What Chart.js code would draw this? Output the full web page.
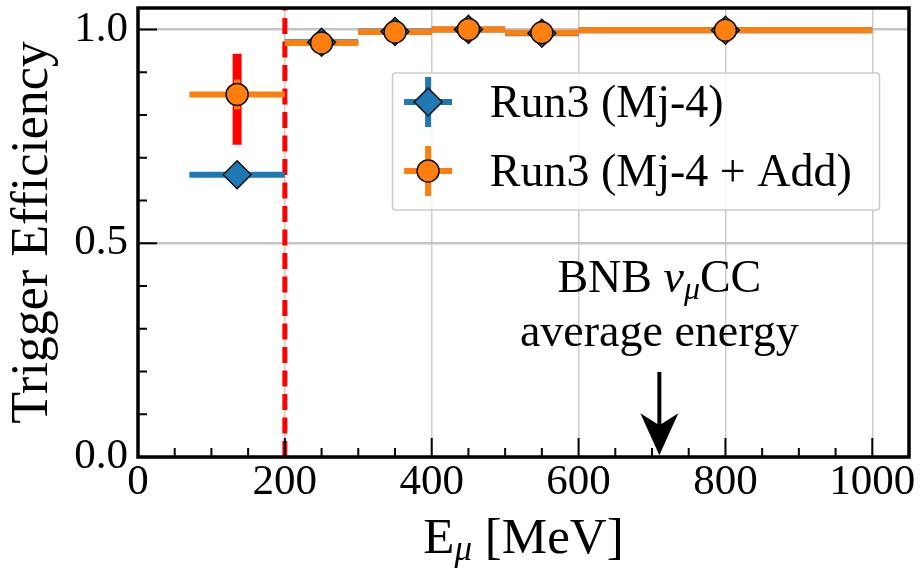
<!DOCTYPE html>
<html>
<head>
<meta charset="utf-8">
<script src="https://cdn.jsdelivr.net/npm/chart.js@4.4.1/dist/chart.umd.min.js"></script>
<style>
  html, body { margin: 0; padding: 0; background: #fff; }
  #wrap { width: 922px; height: 569px; }
</style>
</head>
<body>
<div id="wrap"><canvas id="myChart"></canvas></div>
<script>
// energy bins, E_mu [MeV]
const binLow = [70, 200, 300, 400, 500, 600];
const binHigh = [200, 300, 400, 500, 600, 1000];
const binCenter = [135, 250, 350, 450, 550, 800];

// trigger efficiency per bin
const effMj4 = [0.660, 0.970, 0.995, 1.000, 0.991, 0.998];
const errMj4 = [0.020, 0.006, 0.003, 0.002, 0.004, 0.002];
const effMj4Add = [0.848, 0.968, 0.994, 1.000, 0.992, 0.998];
const errMj4Add = [0.035, 0.006, 0.003, 0.002, 0.004, 0.002];

// red band on the lowest bin
const bandX = [135];
const bandLow = [0.730];
const bandHigh = [0.943];

const xTicks = [0, 200, 400, 600, 800, 1000];
const yTicks = [0.0, 0.5, 1.0];

const thresholdE = 200;   // red dashed line
const avgE = 710;         // BNB numu CC average energy arrow

const serif = '"Liberation Serif", "Times New Roman", serif';
const BLUE = '#1f77b4';
const ORANGE = '#ff7f0e';

function drawRuns(ctx, runs, cx, baseline) {
    let total = 0;
    runs.forEach(r => { ctx.font = r.font; r.w = ctx.measureText(r.text).width; total += r.w; });
    let x = cx - total / 2;
    ctx.textAlign = 'left';
    ctx.textBaseline = 'alphabetic';
    runs.forEach(r => {
        ctx.font = r.font;
        ctx.fillText(r.text, x, baseline + (r.dy || 0));
        x += r.w;
    });
}

function drawErrorBars(ctx, sx, sy, xs, ys, xlo, xhi, yerr, color, lw) {
    ctx.strokeStyle = color;
    ctx.lineWidth = lw;
    ctx.lineCap = 'butt';
    for (let i = 0; i < xs.length; i++) {
        const py = sy.getPixelForValue(ys[i]);
        const px = sx.getPixelForValue(xs[i]);
        ctx.beginPath();
        ctx.moveTo(sx.getPixelForValue(xlo[i]), py);
        ctx.lineTo(sx.getPixelForValue(xhi[i]), py);
        ctx.moveTo(px, sy.getPixelForValue(ys[i] - yerr[i]));
        ctx.lineTo(px, sy.getPixelForValue(ys[i] + yerr[i]));
        ctx.stroke();
    }
}

const decorations = {
    id: 'decorations',
    beforeDatasetsDraw(chart) {
        const ctx = chart.ctx;
        const ca = chart.chartArea;
        const sx = chart.scales.x, sy = chart.scales.y;
        ctx.save();

        // threshold line
        const tx = sx.getPixelForValue(thresholdE);
        ctx.strokeStyle = '#ff0000';
        ctx.lineWidth = 5;
        ctx.setLineDash([16, 7.5]);
        ctx.beginPath();
        ctx.moveTo(tx, ca.bottom);
        ctx.lineTo(tx, ca.top);
        ctx.stroke();
        ctx.setLineDash([]);

        // red band
        ctx.lineWidth = 9;
        for (let i = 0; i < bandX.length; i++) {
            const px = sx.getPixelForValue(bandX[i]);
            ctx.beginPath();
            ctx.moveTo(px, sy.getPixelForValue(bandLow[i]));
            ctx.lineTo(px, sy.getPixelForValue(bandHigh[i]));
            ctx.stroke();
        }

        drawErrorBars(ctx, sx, sy, binCenter, effMj4, binLow, binHigh, errMj4, BLUE, 6);
        drawErrorBars(ctx, sx, sy, binCenter, effMj4Add, binLow, binHigh, errMj4Add, ORANGE, 6);
        ctx.restore();
    },
    afterDatasetsDraw(chart) {
        const ctx = chart.ctx;
        const ca = chart.chartArea;
        const sx = chart.scales.x, sy = chart.scales.y;
        ctx.save();

        // inward ticks
        ctx.strokeStyle = '#000';
        ctx.lineWidth = 2;
        ctx.beginPath();
        for (let v = 0; v <= 1050; v += 50) {
            const px = sx.getPixelForValue(v);
            const len = v % 200 === 0 ? 19 : 9;
            ctx.moveTo(px, ca.bottom);
            ctx.lineTo(px, ca.bottom - len);
        }
        for (let k = 0; k <= 10; k++) {
            const py = sy.getPixelForValue(k / 10);
            const len = k % 5 === 0 ? 19 : 9;
            ctx.moveTo(ca.left, py);
            ctx.lineTo(ca.left + len, py);
        }
        ctx.stroke();

        // frame
        ctx.lineWidth = 3.5;
        ctx.strokeRect(ca.left, ca.top, ca.right - ca.left, ca.bottom - ca.top);

        // arrow to the average energy
        const ax = sx.getPixelForValue(avgE);
        const tip = sy.getPixelForValue(0.004);
        const tail = sy.getPixelForValue(0.199);
        ctx.fillStyle = '#000';
        ctx.lineWidth = 4;
        ctx.beginPath();
        ctx.moveTo(ax, tail);
        ctx.lineTo(ax, tip - 30);
        ctx.stroke();
        ctx.beginPath();
        ctx.moveTo(ax, tip);
        ctx.lineTo(ax - 19, tip - 42);
        ctx.lineTo(ax, tip - 30);
        ctx.lineTo(ax + 19, tip - 42);
        ctx.closePath();
        ctx.fill();

        // annotation
        ctx.fillStyle = '#000';
        drawRuns(ctx, [
            { text: 'BNB ', font: '46px ' + serif },
            { text: 'ν', font: 'italic 46px ' + serif },
            { text: 'μ', font: 'italic 32px ' + serif, dy: 7 },
            { text: 'CC', font: '46px ' + serif }
        ], ax, sy.getPixelForValue(0.3866));
        drawRuns(ctx, [{ text: 'average energy', font: '46px ' + serif }], ax, sy.getPixelForValue(0.26));

        // legend
        const lx = ca.left + 254.5, ly = ca.top + 65, lw = 487, lh = 137;
        ctx.fillStyle = 'rgba(255,255,255,0.8)';
        ctx.strokeStyle = '#cccccc';
        ctx.lineWidth = 1.5;
        ctx.beginPath();
        ctx.roundRect(lx, ly, lw, lh, 3);
        ctx.fill();
        ctx.stroke();

        const entries = [
            { label: chart.data.datasets[0].label, color: BLUE, style: 'diamond', cy: ly + 29 },
            { label: chart.data.datasets[1].label, color: ORANGE, style: 'circle', cy: ly + 98 }
        ];
        entries.forEach(e => {
            const hx = lx + 35.6;
            ctx.strokeStyle = e.color;
            ctx.lineWidth = 6;
            ctx.beginPath();
            ctx.moveTo(hx - 24, e.cy); ctx.lineTo(hx + 24, e.cy);
            ctx.moveTo(hx, e.cy - 25); ctx.lineTo(hx, e.cy + 25);
            ctx.stroke();
            ctx.fillStyle = e.color;
            ctx.strokeStyle = '#111';
            ctx.lineWidth = 1.5;
            ctx.beginPath();
            if (e.style === 'diamond') {
                ctx.moveTo(hx, e.cy - 14); ctx.lineTo(hx + 14, e.cy);
                ctx.lineTo(hx, e.cy + 14); ctx.lineTo(hx - 14, e.cy);
                ctx.closePath();
            } else {
                ctx.arc(hx, e.cy, 11, 0, Math.PI * 2);
            }
            ctx.fill();
            ctx.stroke();
            ctx.fillStyle = '#000';
            ctx.font = '46px ' + serif;
            ctx.textAlign = 'left';
            ctx.textBaseline = 'alphabetic';
            ctx.fillText(e.label, lx + 97.3, e.cy + 15);
        });

        // x axis title
        drawRuns(ctx, [
            { text: 'E', font: '51px ' + serif },
            { text: 'μ', font: 'italic 35px ' + serif, dy: 7 },
            { text: ' [MeV]', font: '51px ' + serif }
        ], (ca.left + ca.right) / 2, ca.bottom + 96);

        ctx.restore();
    }
};

new Chart(document.getElementById('myChart'), {
    type: 'scatter',
    data: {
        datasets: [{
            label: 'Run3 (Mj-4)',
            data: binCenter.map((x, i) => ({ x: x, y: effMj4[i] })),
            pointStyle: 'rectRot',
            pointRadius: 14,
            backgroundColor: BLUE,
            borderColor: '#111',
            borderWidth: 1.5,
            showLine: false,
            order: 2
        }, {
            label: 'Run3 (Mj-4 + Add)',
            data: binCenter.map((x, i) => ({ x: x, y: effMj4Add[i] })),
            pointStyle: 'circle',
            pointRadius: 11,
            backgroundColor: ORANGE,
            borderColor: '#111',
            borderWidth: 1.5,
            showLine: false,
            order: 1
        }]
    },
    options: {
        responsive: true,
        maintainAspectRatio: false,
        animation: false,
        events: [],
        layout: { autoPadding: false, padding: { left: 0, top: 8, right: 13, bottom: 0 } },
        plugins: {
            legend: { display: false },
            tooltip: { enabled: false }
        },
        scales: {
            x: {
                type: 'linear',
                min: 0,
                max: 1050,
                afterBuildTicks: s => { s.ticks = xTicks.map(v => ({ value: v })); },
                afterFit: s => { s.height = 112; s.paddingLeft = 0; s.paddingRight = 0; },
                ticks: {
                    font: { family: serif, size: 43 },
                    color: '#000',
                    padding: 0,
                    maxRotation: 0,
                    autoSkip: false,
                    callback: v => String(v)
                },
                grid: { color: '#cccccc', lineWidth: 1.5, drawTicks: false },
                border: { display: false }
            },
            y: {
                min: 0,
                max: 1.05,
                afterBuildTicks: s => { s.ticks = yTicks.map(v => ({ value: v })); },
                afterFit: s => { s.width = 138; s.paddingTop = 0; s.paddingBottom = 0; },
                ticks: {
                    font: { family: serif, size: 43 },
                    color: '#000',
                    padding: 10,
                    autoSkip: false,
                    callback: v => v.toFixed(1)
                },
                grid: { color: '#c4c4c4', lineWidth: 2.5, drawTicks: false },
                border: { display: false },
                title: {
                    display: true,
                    text: 'Trigger Efficiency',
                    font: { family: serif, size: 52 },
                    color: '#000',
                    padding: { top: 2, bottom: 0 }
                }
            }
        }
    },
    plugins: [decorations]
});
</script>
</body>
</html>
